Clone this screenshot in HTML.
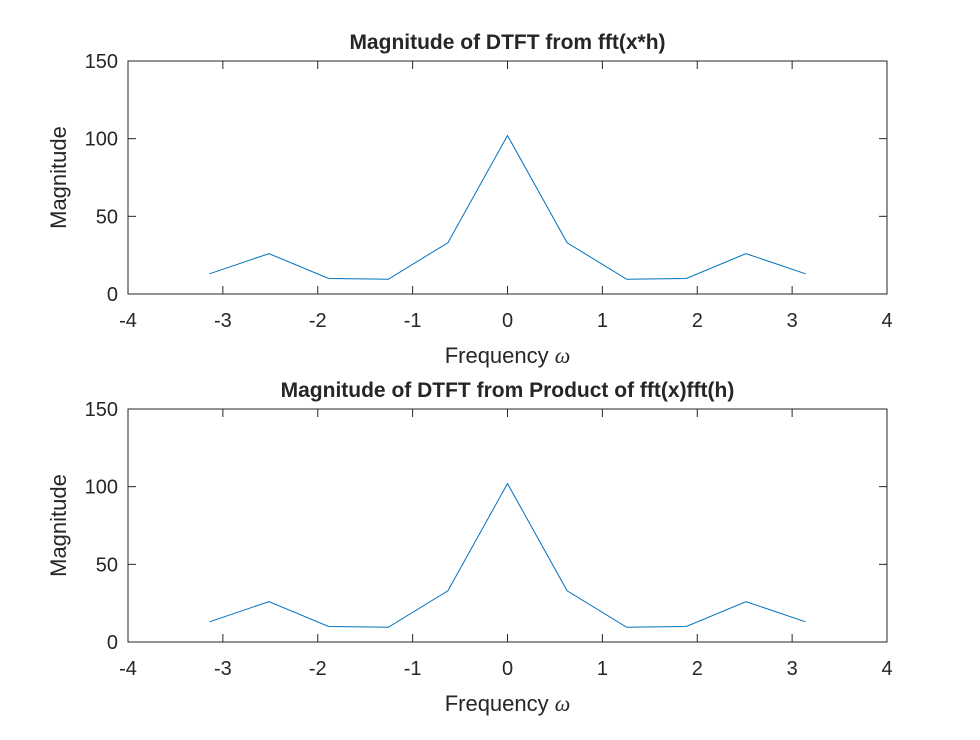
<!DOCTYPE html>
<html><head><meta charset="utf-8"><style>
html,body{margin:0;padding:0;background:#fff;}
svg text{font-family:"Liberation Sans",Arial,sans-serif;fill:#262626;}
</style></head><body>
<svg id="c" width="980" height="735" viewBox="0 0 980 735" xmlns="http://www.w3.org/2000/svg">
<rect width="980" height="735" fill="#fff"/>
</svg>
<script>
const omega = [-3.1416,-2.5133,-1.885,-1.2566,-0.6283,0,0.6283,1.2566,1.885,2.5133,3.1416];
const magConv = [13,26,10,9.5,33,102,33,9.5,10,26,13];
const magProd = [13,26,10,9.5,33,102,33,9.5,10,26,13];
const xTicks = [-4,-3,-2,-1,0,1,2,3,4];
const yTicks = [0,50,100,150];
const titles = ["Magnitude of DTFT from fft(x*h)","Magnitude of DTFT from Product of fft(x)fft(h)"];

const svg = document.getElementById('c');
const NS = "http://www.w3.org/2000/svg";
function mk(tag, attrs, parent){const e=document.createElementNS(NS,tag);for(const k in attrs)e.setAttribute(k,attrs[k]);(parent||svg).appendChild(e);return e;}

const L=128,R=887;
const panels=[{top:61,bot:294,data:magConv,name:'top'},{top:409,bot:642,data:magProd,name:'bottom'}];
panels.forEach((p,pi)=>{
  const g=mk('g',{});
  
  
  const sx=v=>L+(v+4)/8*(R-L);
  const sy=v=>p.bot-v/150*(p.bot-p.top);
  const box=mk('rect',{x:L,y:p.top,width:R-L,height:p.bot-p.top,fill:'#fff',stroke:'#262626','stroke-width':1},g);
  
  
  xTicks.forEach(t=>{
    const x=sx(t);
    mk('line',{x1:x,x2:x,y1:p.bot,y2:p.bot-8,stroke:'#262626'},g);
    mk('line',{x1:x,x2:x,y1:p.top,y2:p.top+8,stroke:'#262626'},g);
    const tx=mk('text',{x:x,y:p.bot+33,'text-anchor':'middle','font-size':20},g);
    tx.textContent=t;
    
    
  });
  yTicks.forEach(t=>{
    const y=sy(t);
    mk('line',{x1:L,x2:L+8,y1:y,y2:y,stroke:'#262626'},g);
    mk('line',{x1:R,x2:R-8,y1:y,y2:y,stroke:'#262626'},g);
    const tx=mk('text',{x:L-10,y:y+7,'text-anchor':'end','font-size':20},g);
    tx.textContent=t;
    
    
  });
  const pts=omega.map((w,i)=>sx(w)+','+sy(p.data[i])).join(' ');
  const line=mk('polyline',{points:pts,fill:'none',stroke:'#0072BD','stroke-width':1},g);
  
  
  const ti=mk('text',{x:(L+R)/2,y:p.top-12,'text-anchor':'middle','font-size':21,'font-weight':'bold'},g);
  ti.textContent=titles[pi];
  
  
  const xl=mk('text',{x:(L+R)/2,y:p.bot+69,'text-anchor':'middle','font-size':22},g);
  xl.innerHTML='Frequency <tspan font-family="Liberation Serif,serif" font-style="italic">ω</tspan>';
  
  
  const yc=(p.top+p.bot)/2;
  const yl=mk('text',{x:66,y:yc,'text-anchor':'middle','font-size':22,transform:`rotate(-90 66 ${yc})`},g);
  yl.textContent='Magnitude';
  
  
});
</script>
</body></html>
